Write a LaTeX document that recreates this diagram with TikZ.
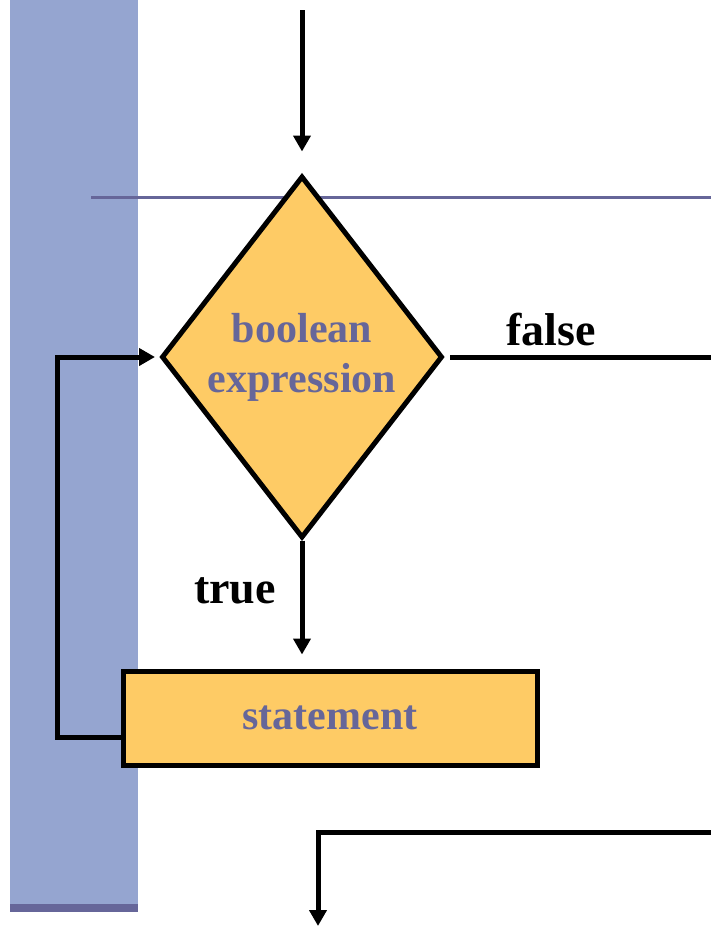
\documentclass[tikz,border=0pt]{standalone}
\usepackage{fontspec}
\setmainfont{Liberation Serif}
\usetikzlibrary{arrows.meta,shapes.geometric}
\definecolor{barblue}{HTML}{95A5D0}
\definecolor{slate}{HTML}{666699}
\definecolor{boxgold}{HTML}{FECB65}
\tikzset{
  flow/.style={line width=5pt, draw=black},
  arr/.style={flow, -{Triangle[width=17pt,length=16pt]}},
  boxtext/.style={text=slate, font=\bfseries\fontsize{42}{51}\selectfont},
  lbl/.style={font=\bfseries\fontsize{46}{50}\selectfont, inner sep=0pt, anchor=base west},
  decision/.style={diamond, draw=black, line width=5pt, fill=boxgold,
    minimum width=281pt, minimum height=362pt, inner sep=0pt, align=center, boxtext},
  process/.style={rectangle, draw=black, line width=5pt, fill=boxgold,
    minimum width=414pt, minimum height=94pt, inner sep=0pt, boxtext}
}
\begin{document}
\begin{tikzpicture}[x=1pt,y=-1pt]
  \useasboundingbox (0,0) rectangle (711,926);
  % side band and rule
  \fill[barblue] (10,0) rectangle (138,906);
  \fill[slate] (10,904) rectangle (138,912);
  \draw[slate, line width=3pt] (91,197) -- (711,197);

  % shapes
  \node[decision] (dia) at (302,357) {boolean\\[-1pt]expression};
  \node[process] (stmt) at (330,718) {statement};

  % labels
  \node[lbl] (lfalse) at (506,345) {false};
  \node[lbl] (ltrue) at (194,603) {true};

  % free ends
  \coordinate (entry) at (302,10);
  \coordinate (falseend) at (711,357);
  \coordinate (exitstart) at (711,832);
  \coordinate (exitend) at (318,926);

  % connectors
  \draw[arr, shorten >=22pt] (entry) -- (dia.north);
  \draw[flow, shorten <=5pt] (dia.east) -- (falseend);
  \draw[arr, shorten >=14pt] (dia.south) -- (dia.south |- stmt.north);
  \draw[arr, shorten >=4pt] ([yshift=-19pt]stmt.west) -- ++(-63,0) |- (dia.west);
  \draw[arr] (exitstart) -| (exitend);
\end{tikzpicture}
\end{document}
